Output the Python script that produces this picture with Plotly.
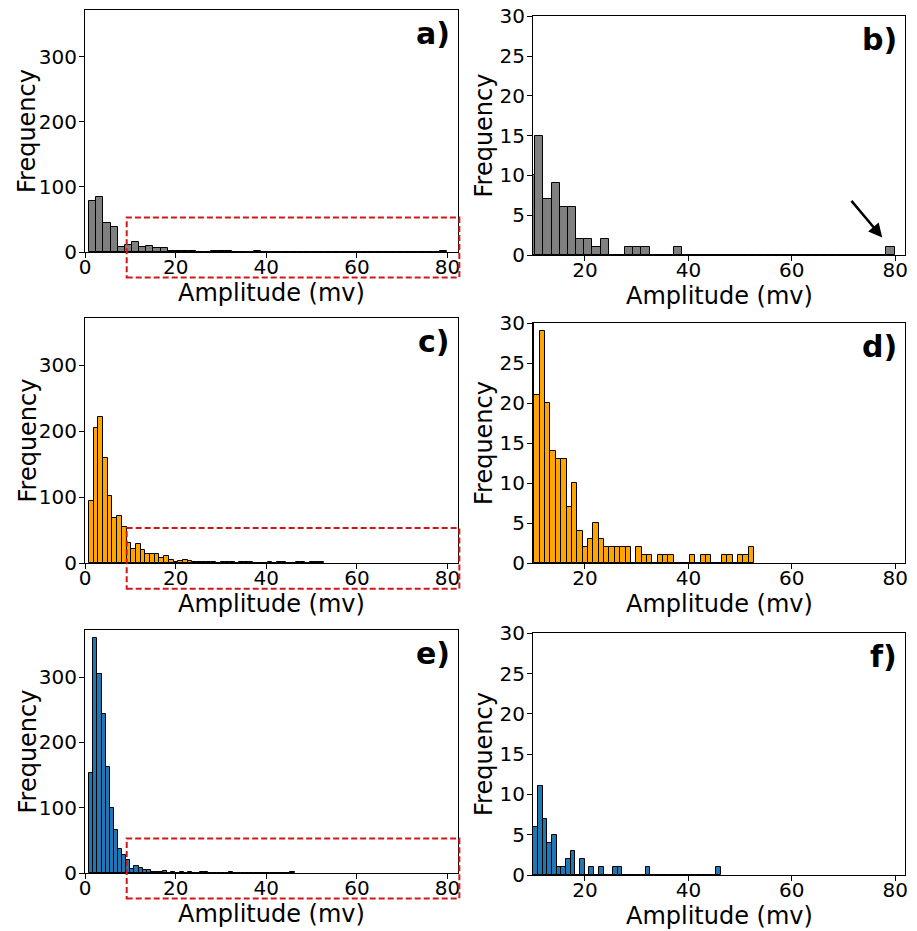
import plotly.graph_objects as go
from plotly.subplots import make_subplots

# --- histogram counts (50 bins per dataset) ---
counts_gray = [78, 85, 45, 38, 7, 10, 15, 7, 9, 6,
               6, 2, 2, 1, 2, 0, 0, 1, 1, 1,
               0, 0, 0, 1, 0, 0, 0, 0, 0, 0,
               0, 0, 0, 0, 0, 0, 0, 0, 0, 0,
               0, 0, 0, 0, 0, 0, 0, 0, 0, 1]
counts_orange = [94, 205, 222, 160, 101, 68, 72, 55, 30, 21,
                 29, 20, 14, 13, 13, 7, 10, 4, 2, 3,
                 5, 3, 2, 2, 2, 2, 2, 0, 2, 1,
                 1, 0, 1, 1, 1, 0, 0, 0, 1, 0,
                 1, 1, 0, 0, 1, 1, 0, 1, 1, 2]
counts_blue = [153, 360, 305, 244, 162, 99, 66, 37, 28, 20,
               6, 11, 7, 4, 5, 1, 1, 2, 3, 0,
               2, 0, 1, 0, 1, 0, 0, 1, 1, 0,
               0, 0, 0, 0, 1, 0, 0, 0, 0, 0,
               0, 0, 0, 0, 0, 0, 0, 0, 0, 1]

# bin start and bin width (mV) for each dataset
bins_gray = (0.89, 1.58)
bins_orange = (0.88, 1.037)
bins_blue = (0.94, 0.906)

panel_labels = ["a)", "b)", "c)", "d)", "e)", "f)"]
x_ticks_full = [0, 20, 40, 60, 80]
x_ticks_zoom = [20, 40, 60, 80]
y_ticks_full = [0, 100, 200, 300]
y_ticks_zoom = [0, 5, 10, 15, 20, 25, 30]

# zoom window drawn as red dashed box on the left panels
zoom_x = (9.2, 82.6)
zoom_top = 53

# page is 917x931, browser body margin is 8px -> figure starts at (8, 8)
PAGE_W, PAGE_H, PAD = 917, 931, 8
W, H = PAGE_W - PAD, PAGE_H - PAD
FULL_X = [0, 82.3]
FULL_Y = [0, 372]
ZOOM_X = [9.95, 81.9]
ZOOM_Y = [0, 30.05]

rows = [
    (counts_gray, bins_gray, "#808080"),
    (counts_orange, bins_orange, "#FFA500"),
    (counts_blue, bins_blue, "#1f77b4"),
]

fig = make_subplots(rows=3, cols=2)

for r, (cnt, (start, width), color) in enumerate(rows, start=1):
    centers = [start + width * (i + 0.5) for i in range(len(cnt))]
    for c in (1, 2):
        fig.add_trace(go.Bar(
            x=centers, y=cnt, width=width,
            marker=dict(color=color, line=dict(color="black", width=1)),
            showlegend=False,
        ), row=r, col=c)

# panel geometry in page pixels (left, right, top, bottom)
boxes = [
    (85, 458, 10, 252), (533, 905, 16, 255),
    (85, 458, 318, 563), (533, 905, 323, 563),
    (85, 458, 630, 873), (533, 905, 633, 875),
]

font = "DejaVu Sans"
for k, (l, rgt, t, b) in enumerate(boxes):
    n = "" if k == 0 else str(k + 1)
    left = k % 2 == 0
    fig.layout["xaxis" + n].update(
        domain=[(l - PAD) / W, (rgt - PAD) / W],
        range=FULL_X if left else ZOOM_X,
        tickvals=x_ticks_full if left else x_ticks_zoom,
        showline=True, mirror=True, linecolor="black", linewidth=1,
        ticks="outside", ticklen=5, tickcolor="black", ticklabelstandoff=-8,
        showgrid=False, zeroline=False, automargin=False,
        ticklabeloverflow="allow",
        tickfont=dict(family=font, size=20, color="black"),
    )
    fig.layout["yaxis" + n].update(
        domain=[1 - (b - PAD) / H, 1 - (t - PAD) / H],
        range=FULL_Y if left else ZOOM_Y,
        tickvals=y_ticks_full if left else y_ticks_zoom,
        showline=True, mirror=True, linecolor="black", linewidth=1,
        ticks="outside", ticklen=5, tickcolor="black", ticklabelstandoff=-2,
        showgrid=False, zeroline=False, automargin=False,
        ticklabeloverflow="allow",
        tickfont=dict(family=font, size=20, color="black"),
    )
    # axis titles
    fig.add_annotation(
        text="Amplitude (mv)", xref="x" + n + " domain", yref="y" + n + " domain",
        x=0.5, y=0, yshift=-41, xanchor="center", yanchor="middle",
        showarrow=False, font=dict(family=font, size=24, color="black"),
    )
    fig.add_annotation(
        text="Frequency", xref="x" + n + " domain", yref="y" + n + " domain",
        x=0, y=0.5, xshift=-58 if left else -49, textangle=-90,
        xanchor="center", yanchor="middle",
        showarrow=False, font=dict(family=font, size=24, color="black"),
    )
    fig.add_annotation(
        text="<b>" + panel_labels[k] + "</b>",
        xref="x" + n + " domain", yref="y" + n + " domain",
        x=0.985, y=0.985, xanchor="right", yanchor="top", showarrow=False,
        font=dict(family=font, size=30, color="black"),
    )
    if left:
        # red dashed box marking the zoomed region
        span_x = FULL_X[1] - FULL_X[0]
        span_y = FULL_Y[1] - FULL_Y[0]
        fig.add_shape(
            type="rect",
            xref="x" + n + " domain", yref="y" + n + " domain",
            x0=(zoom_x[0] - FULL_X[0]) / span_x, x1=(zoom_x[1] - FULL_X[0]) / span_x,
            y0=-0.105, y1=(zoom_top - FULL_Y[0]) / span_y,
            line=dict(color="#d01818", width=2, dash="6px,3px"),
        )

# arrow pointing at the isolated large event in panel b
fig.add_annotation(
    x=77.5, y=2.2, ax=71.3, ay=7,
    xref="x2", yref="y2", axref="x2", ayref="y2",
    text="", showarrow=True, arrowhead=2, arrowsize=1.1, arrowwidth=2.5,
    arrowcolor="black",
)

fig.update_layout(
    width=W, height=H,
    margin=dict(l=0, r=0, t=0, b=0),
    plot_bgcolor="white", paper_bgcolor="white",
    bargap=0,
)

fig.write_html("out.html")
